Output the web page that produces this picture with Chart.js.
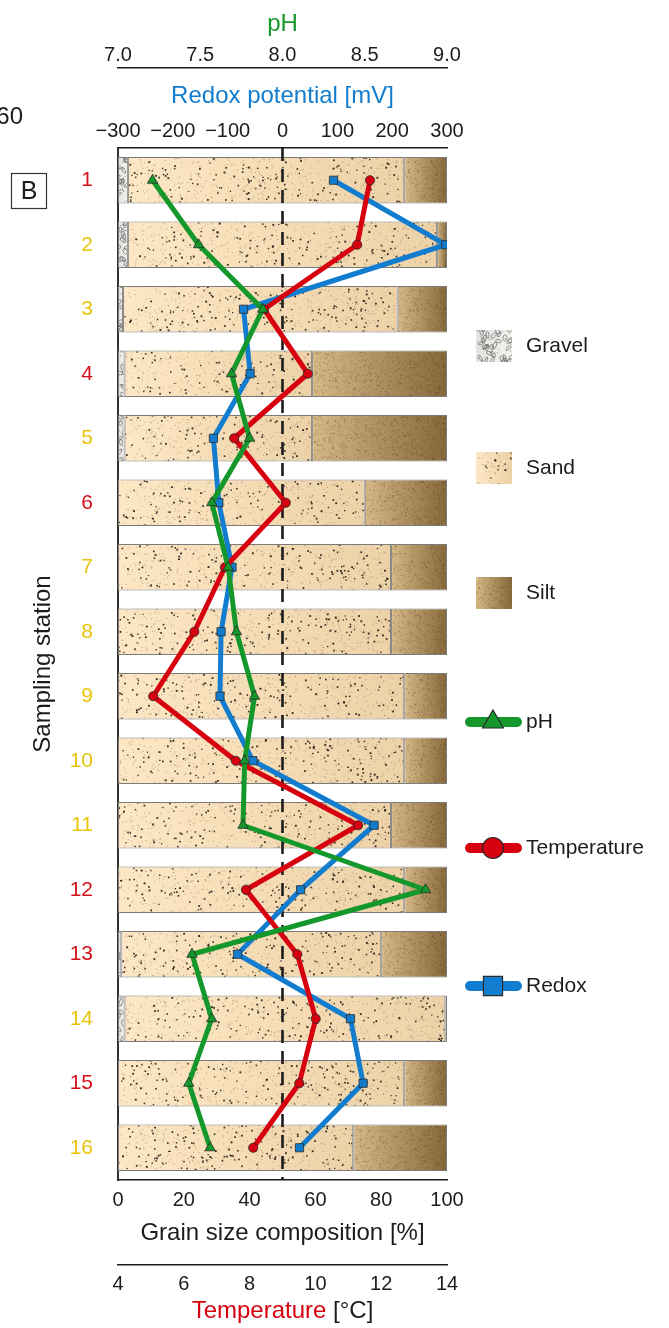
<!DOCTYPE html>
<html>
<head>
<meta charset="utf-8">
<title>Sampling stations: grain size, pH, redox and temperature</title>
<script src="https://cdn.jsdelivr.net/npm/chart.js@4.4.1/dist/chart.umd.min.js"></script>
<style>
  html, body { margin: 0; padding: 0; background: #fff; }
  #chart { display: block; }
</style>
</head>
<body>
<canvas id="chart" width="669" height="1328"></canvas>
<script>
// ---- data ----
const stations = ['1', '2', '3', '4', '5', '6', '7', '8', '9', '10', '11', '12', '13', '14', '15', '16'];
const stationTone = ['red', 'yellow', 'yellow', 'red', 'yellow', 'red', 'yellow', 'yellow',
  'yellow', 'yellow', 'yellow', 'red', 'red', 'yellow', 'red', 'yellow'];

// grain size composition [%]
const gravel = [3, 3, 1.5, 2, 2, 0, 0, 0, 0, 0, 0, 0, 1, 2, 0, 0];
const sand = [84, 94, 83.5, 57, 57, 75, 83, 83, 87, 87, 83, 87, 79, 97.5, 87, 71.5];
const silt = [13, 3, 15, 41, 41, 25, 17, 17, 13, 13, 17, 13, 20, 0.5, 13, 28.5];

// line parameters
const ph = [7.21, 7.49, 7.88, 7.69, 7.80, 7.57, 7.67, 7.72, 7.83, 7.77, 7.76, 8.87, 7.45, 7.57, 7.43, 7.56];
const redox = [93, 298, -71, -59, -126, -116, -92, -112, -114, -54, 167, 33, -82, 124, 147, 31];
const temperature = [11.66, 11.27, 8.44, 9.77, 7.53, 9.10, 7.25, 6.32, 5.07, 7.58, 11.30, 7.89, 9.45, 10.01, 9.51, 8.11];

// tick labels
const phTicks = [7.0, 7.5, 8.0, 8.5, 9.0];
const redoxTicks = [-300, -200, -100, 0, 100, 200, 300];
const grainTicks = [0, 20, 40, 60, 80, 100];
const tempTicks = [4, 6, 8, 10, 12, 14];

// ---- styling ----
const FONT = "'Liberation Sans', Arial, Helvetica, sans-serif";
const GREEN = '#15982b';
const BLUE = '#127dcf';
const RED = '#d7000f';
const TONE = { red: '#d4101c', yellow: '#e9c40c' };
const INK = '#1c1c1c';

const tones = {
  gravel: ['#e2e2df', '#f5f3ef'],
  sand: ['#fde7c4', '#edd2a8'],
  silt: ['#d8ba89', '#86683a']
};
const baseColor = { gravel: '#ebeae6', sand: '#f5dab1', silt: '#b39467' };

// deterministic speckle generator for the textures
function seeded(seed) {
  let s = seed >>> 0;
  return () => {
    s = (s * 1664525 + 1013904223) >>> 0;
    return s / 4294967296;
  };
}

const TEX_W = 669;
const TEX_H = 96;

/**
 * Build a repeating texture whose gradient runs from x0 to x1 (canvas pixels)
 */
function makeTexture(kind, x0, x1, seed) {
  const c = document.createElement('canvas');
  c.width = TEX_W;
  c.height = TEX_H;
  const g = c.getContext('2d');
  const grad = g.createLinearGradient(x0, 0, Math.max(x1, x0 + 1), 0);
  grad.addColorStop(0, tones[kind][0]);
  grad.addColorStop(1, tones[kind][1]);
  g.fillStyle = grad;
  g.fillRect(0, 0, TEX_W, TEX_H);

  const rnd = seeded(seed);
  const span = Math.max(x1 - x0, 1);

  if (kind === 'sand') {
    const n = Math.round(span * TEX_H / 26);
    for (let k = 0; k < n; k++) {
      const x = x0 + rnd() * span;
      const y = rnd() * TEX_H;
      if (rnd() < 0.3) {
        const s = 1.2 + rnd() * 0.7;
        g.fillStyle = 'rgba(20,15,10,0.85)';
        g.fillRect(x, y, s, s);
      } else {
        g.fillStyle = 'rgba(90,70,45,0.4)';
        g.fillRect(x, y, 1, 1);
      }
    }
  } else if (kind === 'silt') {
    const n = Math.round(span * TEX_H / 10);
    for (let k = 0; k < n; k++) {
      g.fillStyle = 'rgba(70,45,15,0.32)';
      g.fillRect(x0 + rnd() * span, rnd() * TEX_H, 1, 1);
    }
    g.strokeStyle = 'rgba(75,50,20,0.3)';
    g.lineWidth = 0.8;
    g.setLineDash([1, 2]);
    const arcs = Math.max(1, Math.round(span / 22));
    for (let k = 0; k < arcs; k++) {
      const cx = x0 + rnd() * span;
      const cy = rnd() * TEX_H + 30;
      const r = 25 + rnd() * 35;
      g.beginPath();
      g.arc(cx, cy, r, Math.PI * 1.15, Math.PI * 1.85);
      g.stroke();
    }
  } else {
    const n = Math.round(span * TEX_H / 45) + 4;
    g.strokeStyle = 'rgba(70,70,70,0.7)';
    g.lineWidth = 0.8;
    for (let k = 0; k < n; k++) {
      g.beginPath();
      g.ellipse(x0 + rnd() * span, rnd() * TEX_H, 2.4 + rnd() * 1.5, 1.1 + rnd() * 0.8,
        rnd() * Math.PI, 0, Math.PI * 2);
      g.stroke();
    }
    for (let k = 0; k < n; k++) {
      g.fillStyle = 'rgba(90,90,90,0.6)';
      g.fillRect(x0 + rnd() * span, rnd() * TEX_H, 1, 1);
    }
  }
  return g.createPattern(c, 'repeat');
}

const textureCache = {};

/**
 * Scriptable fill for the grain size bars
 */
function grainFill(ctx, kind) {
  const chart = ctx.chart;
  const xs = chart.scales.xPct;
  if (!chart.chartArea || !xs || ctx.dataIndex === undefined) return baseColor[kind];
  const i = ctx.dataIndex;
  let from = 0;
  if (kind !== 'gravel') from += gravel[i];
  if (kind === 'silt') from += sand[i];
  const size = kind === 'gravel' ? gravel[i] : kind === 'sand' ? sand[i] : silt[i];
  const x0 = xs.getPixelForValue(from);
  const x1 = xs.getPixelForValue(from + size);
  const key = kind + '_' + i + '_' + Math.round(x0) + '_' + Math.round(x1);
  if (!textureCache[key]) {
    textureCache[key] = makeTexture(kind, x0, x1, 97 + i * 31 + kind.length * 7);
  }
  return textureCache[key];
}

function grainSet(label, data, kind, order) {
  return {
    type: 'bar',
    label: label,
    data: data,
    indexAxis: 'y',
    xAxisID: 'xPct',
    yAxisID: 'y',
    stack: 'grain',
    order: order,
    grouped: false,
    backgroundColor: ctx => grainFill(ctx, kind),
    borderColor: '#7b7b7b',
    borderWidth: 1,
    borderSkipped: false,
    barPercentage: 0.72,
    categoryPercentage: 1
  };
}

function lineSet(label, data, axis, color, style, radius, order) {
  return {
    type: 'line',
    label: label,
    data: data,
    indexAxis: 'y',
    xAxisID: axis,
    yAxisID: 'y',
    order: order,
    borderColor: color,
    borderWidth: 5,
    borderJoinStyle: 'round',
    borderCapStyle: 'round',
    tension: 0,
    fill: false,
    pointStyle: style,
    pointRadius: radius,
    pointBackgroundColor: color,
    pointBorderColor: '#2a2a2a',
    pointBorderWidth: 0.8
  };
}

function tickFont(size) {
  return { family: FONT, size: size, lineHeight: 1.2 };
}

function fixedTicks(list) {
  return scale => {
    scale.ticks = list.map(v => ({ value: v }));
  };
}

function minusLabel(v) {
  return v < 0 ? '\u2212' + Math.abs(v) : String(v);
}

// ---- extra drawing: zero line, two-colour title, panel tag and legend ----
const decorations = {
  id: 'decorations',
  beforeDatasetDraw(chart, args) {
    if (chart.data.datasets[args.index].label !== 'Redox') return;
    const { top, bottom } = chart.chartArea;
    const x = chart.scales.xRedox.getPixelForValue(0);
    const c = chart.ctx;
    c.save();
    c.strokeStyle = INK;
    c.lineWidth = 2.6;
    c.setLineDash([13, 8]);
    c.beginPath();
    c.moveTo(x, top);
    c.lineTo(x, bottom);
    c.stroke();
    c.restore();
  },
  afterDraw(chart) {
    const c = chart.ctx;
    const area = chart.chartArea;
    c.save();

    // temperature title in two colours
    const ts = chart.scales.xTemp;
    const ty = ts.bottom - 2 - 14.4;
    c.font = '24px ' + FONT;
    c.textBaseline = 'middle';
    c.textAlign = 'left';
    const part1 = 'Temperature';
    const part2 = ' [\u00B0C]';
    const w1 = c.measureText(part1).width;
    const w2 = c.measureText(part2).width;
    const tx = (area.left + area.right) / 2 - (w1 + w2) / 2;
    c.fillStyle = RED;
    c.fillText(part1, tx, ty);
    c.fillStyle = INK;
    c.fillText(part2, tx + w1, ty);

    // leftover text from the neighbouring panel and the panel tag
    c.font = '24px ' + FONT;
    c.textAlign = 'right';
    c.fillStyle = INK;
    c.fillText('60', 23, 117);
    c.strokeStyle = '#333';
    c.lineWidth = 1.2;
    c.strokeRect(11.5, 173.5, 35, 35);
    c.textAlign = 'center';
    c.font = '25px ' + FONT;
    c.fillText('B', 29, 192);

    // legend: grain size textures
    const swatches = [['Gravel', 'gravel', 346], ['Sand', 'sand', 468], ['Silt', 'silt', 593]];
    swatches.forEach(([text, kind, y], k) => {
      c.fillStyle = makeTexture(kind, 476, 512, 11 + k * 5);
      c.fillRect(476, y - 16, 36, 32);
      c.fillStyle = INK;
      c.textAlign = 'left';
      c.font = '21px ' + FONT;
      c.fillText(text, 526, y);
    });

    // legend: profiles
    const keys = [['pH', GREEN, 'triangle', 12, 722], ['Temperature', RED, 'circle', 10.5, 848],
      ['Redox', BLUE, 'rect', 13.5, 986]];
    keys.forEach(([text, color, style, r, y]) => {
      c.strokeStyle = color;
      c.lineWidth = 10;
      c.lineCap = 'round';
      c.beginPath();
      c.moveTo(470, y);
      c.lineTo(517, y);
      c.stroke();
      c.fillStyle = color;
      c.strokeStyle = '#2a2a2a';
      c.lineWidth = 1.2;
      Chart.helpers.drawPoint(c, { pointStyle: style, radius: r, rotation: 0, borderWidth: 1.2 }, 493, y);
      c.fillStyle = INK;
      c.font = '21px ' + FONT;
      c.textAlign = 'left';
      c.fillText(text, 526, y);
    });

    c.restore();
  }
};

new Chart(document.getElementById('chart'), {
  type: 'bar',
  data: {
    labels: stations,
    datasets: [
      lineSet('pH', ph, 'xPh', GREEN, 'triangle', 6, 0),
      lineSet('Temperature', temperature, 'xTemp', RED, 'circle', 4.6, 1),
      lineSet('Redox', redox, 'xRedox', BLUE, 'rect', 5.8, 2),
      grainSet('Gravel', gravel, 'gravel', 3),
      grainSet('Sand', sand, 'sand', 4),
      grainSet('Silt', silt, 'silt', 5)
    ]
  },
  options: {
    indexAxis: 'y',
    responsive: false,
    animation: false,
    events: [],
    layout: { padding: { left: 0, right: 222, top: 0, bottom: 0 } },
    plugins: {
      legend: { display: false },
      tooltip: { enabled: false }
    },
    scales: {
      y: {
        type: 'category',
        position: 'left',
        offset: true,
        stacked: true,
        grid: { display: false, drawTicks: false },
        border: { display: true, color: '#333', width: 2 },
        ticks: {
          padding: 25,
          font: tickFont(21),
          color: ctx => TONE[stationTone[ctx.index]]
        },
        title: {
          display: true,
          text: 'Sampling station',
          color: INK,
          font: tickFont(24),
          padding: { top: 29, bottom: 0 }
        },
        afterFit: s => { s.width = 118; }
      },
      xPct: {
        type: 'linear',
        position: 'bottom',
        weight: 1,
        stacked: true,
        min: 0,
        max: 100,
        afterBuildTicks: fixedTicks(grainTicks),
        grid: { display: false, drawTicks: false },
        border: { display: true, color: INK, width: 1.5 },
        ticks: { padding: 8, autoSkip: false, maxRotation: 0, font: tickFont(20), color: INK },
        title: {
          display: true,
          text: 'Grain size composition [%]',
          color: INK,
          font: tickFont(24),
          padding: { top: 0, bottom: 17 }
        },
        afterFit: s => { s.height = 85; }
      },
      xTemp: {
        type: 'linear',
        position: 'bottom',
        weight: 2,
        min: 4,
        max: 14,
        afterBuildTicks: fixedTicks(tempTicks),
        grid: { display: false, drawTicks: false },
        border: { display: true, color: INK, width: 1.5 },
        ticks: { padding: 7, autoSkip: false, maxRotation: 0, font: tickFont(20), color: INK },
        title: {
          display: true,
          text: 'Temperature [\u00B0C]',
          color: 'rgba(0,0,0,0)',
          font: tickFont(24),
          padding: { top: 0, bottom: 2 }
        },
        afterFit: s => { s.height = 63; }
      },
      xPh: {
        type: 'linear',
        position: 'top',
        weight: 2,
        min: 7,
        max: 9,
        afterBuildTicks: fixedTicks(phTicks),
        grid: { display: false, drawTicks: false },
        border: { display: true, color: INK, width: 1.5 },
        ticks: {
          padding: 1,
          autoSkip: false,
          maxRotation: 0,
          font: tickFont(20),
          color: INK,
          callback: v => Number(v).toFixed(1)
        },
        title: {
          display: true,
          text: 'pH',
          color: GREEN,
          font: tickFont(24),
          padding: { top: 10, bottom: 0 }
        },
        afterFit: s => { s.height = 68; }
      },
      xRedox: {
        type: 'linear',
        position: 'top',
        weight: 1,
        min: -300,
        max: 300,
        afterBuildTicks: fixedTicks(redoxTicks),
        grid: { display: false, drawTicks: false },
        border: { display: true, color: INK, width: 1.5 },
        ticks: {
          padding: 5,
          autoSkip: false,
          maxRotation: 0,
          font: tickFont(20),
          color: INK,
          callback: v => minusLabel(v)
        },
        title: {
          display: true,
          text: 'Redox potential [mV]',
          color: BLUE,
          font: tickFont(24),
          padding: { top: 14, bottom: 0 }
        },
        afterFit: s => { s.height = 80; }
      }
    }
  },
  plugins: [decorations]
});
</script>
</body>
</html>
